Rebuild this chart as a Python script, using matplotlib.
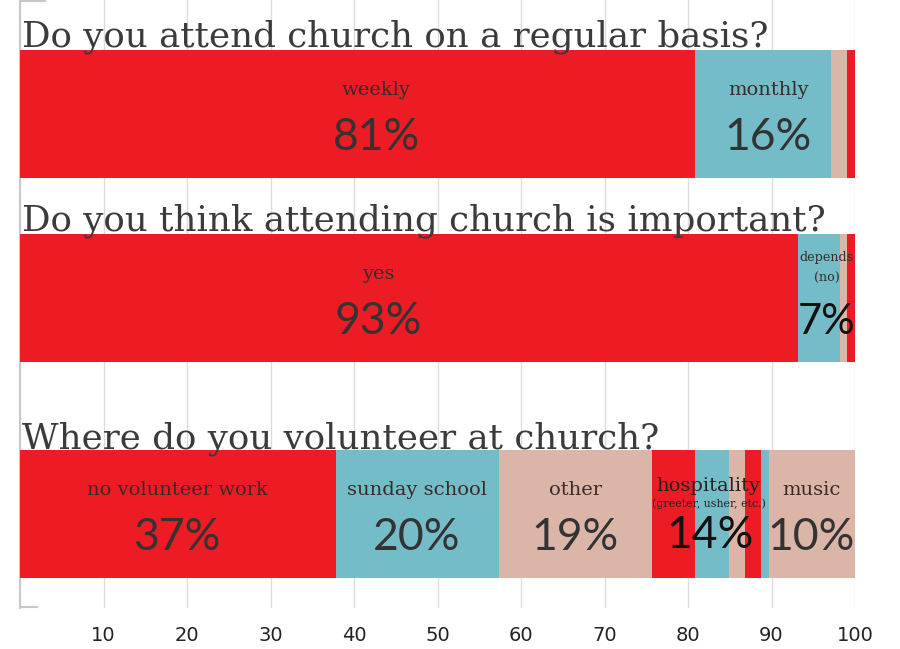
import matplotlib
matplotlib.use("Agg")
import matplotlib.pyplot as plt

# ---- data ----
questions = ["Do you attend church on a regular basis?",
             "Do you think attending church is important?",
             "Where do you volunteer at church?"]
attend_vals = [80.8, 16.3, 1.9, 1.0]
attend_cols = ["red", "blue", "pink", "red"]
important_vals = [93.2, 5.0, 0.8, 1.0]
important_cols = ["red", "blue", "pink", "red"]
volunteer_vals = [37.8, 19.6, 18.3, 5.1, 4.1, 1.9, 2.0, 0.9, 10.3]
volunteer_cols = ["red", "blue", "pink", "red", "blue", "pink", "red", "blue", "pink"]
xticks = [10, 20, 30, 40, 50, 60, 70, 80, 90, 100]

# labels: (x position, category label, percent label)
attend_labels = [(42.7, "weekly", "81%"), (89.6, "monthly", "16%")]
important_labels = [(42.9, "yes", "93%")]
volunteer_labels = [(18.8, "no volunteer work", "37%"), (47.5, "sunday school", "20%"),
                    (66.5, "other", "19%"), (94.8, "music", "10%")]

palette = {"red": "#ED1C24", "blue": "#74BDC8", "pink": "#DCB5A9"}

W, H = 900, 649
fig = plt.figure(figsize=(W / 100, H / 100), dpi=100)
ax_bottom = 608
ax = fig.add_axes([20 / W, (H - ax_bottom) / H, 835 / W, ax_bottom / H])
ax.set_xlim(0, 100)
ax.set_ylim(ax_bottom, 0)
for s in ax.spines.values():
    s.set_visible(False)

# grid
for t in xticks:
    ax.plot([t, t], [0, ax_bottom], color="#dcdcdc", lw=1, zorder=0)
ax.plot([0, 0], [0, ax_bottom], color="#c8c8c8", lw=1.5, zorder=0, clip_on=False)
ax.plot([0, 2], [ax_bottom - 1, ax_bottom - 1], color="#c8c8c8", lw=1.5, zorder=0, clip_on=False)
ax.plot([0, 3], [1, 1], color="#c8c8c8", lw=1.5, zorder=0, clip_on=False)

ax.set_xticks(xticks)
ax.set_xticklabels([str(t) for t in xticks], fontsize=14,
                   family=["DejaVu Sans"], color="#222222")
ax.tick_params(axis="x", length=0, pad=13)
ax.set_yticks([])

bars = [(114, attend_vals, attend_cols), (298, important_vals, important_cols),
        (514, volunteer_vals, volunteer_cols)]
bar_h = 128
for yc, vals, cols in bars:
    left = 0
    for v, c in zip(vals, cols):
        ax.barh(yc, v, left=left, height=bar_h, color=palette[c], edgecolor="none", zorder=2)
        left += v

title_font = ["DejaVu Serif"]
title_y = [47, 231, 448]
for q, y in zip(questions, title_y):
    ax.text(0.2, y, q, fontsize=25.7, family=title_font, color="#3b3b3b",
            va="baseline", ha="left", zorder=5)

lab_font = ["DejaVu Serif"]
pct_font = ["Lato", "DejaVu Sans"]
lab_col = "#3a2a2a"
pct_col = "#333333"


def put(labels, yc):
    for x, lab, pct in labels:
        ax.text(x, yc - 24, lab, fontsize=14, family=lab_font, color=lab_col,
                ha="center", va="center", zorder=5)
        ax.text(x, yc + 24, pct, fontsize=32, family=pct_font, color=pct_col,
                ha="center", va="center", zorder=5)


put(attend_labels, 114)
put(important_labels, 298)
put(volunteer_labels, 514)

# small 'depends (no) 7%' label
ax.text(96.6, 257, "depends", fontsize=9.2, family=lab_font, color=lab_col, ha="center", va="center", zorder=5)
ax.text(96.6, 278, "(no)", fontsize=9.2, family=lab_font, color=lab_col, ha="center", va="center", zorder=5)
ax.text(96.6, 322, "7%", fontsize=30, family=pct_font, color="#111111", ha="center", va="center", zorder=5)

# hospitality
ax.text(82.4, 486, "hospitality", fontsize=14, family=lab_font, color="#222222", ha="center", va="center", zorder=5)
ax.text(82.5, 504, "(greeter, usher, etc.)", fontsize=7.9, family=lab_font, color="#222222", ha="center", va="center", zorder=5)
ax.text(82.6, 536, "14%", fontsize=32, family=pct_font, color="#111111", ha="center", va="center", zorder=5)

fig.savefig("out.png", dpi=100)
